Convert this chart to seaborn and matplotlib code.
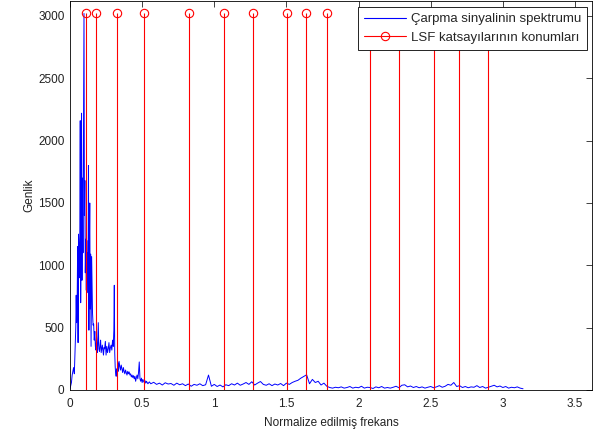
import numpy as np
import seaborn as sns
import matplotlib
matplotlib.use('Agg')
import matplotlib.pyplot as plt
from matplotlib.lines import Line2D
from matplotlib.legend_handler import HandlerLine2D

# spectrum, low band (dense)
freq_low = [0.000, 0.010, 0.015, 0.020, 0.025, 0.030, 0.035, 0.040, 0.043, 0.046,
            0.050, 0.053, 0.056, 0.059, 0.062, 0.065, 0.068, 0.071, 0.074, 0.077,
            0.080, 0.083, 0.086, 0.090, 0.094, 0.097, 0.100, 0.103, 0.106, 0.110,
            0.113, 0.116, 0.119, 0.122, 0.125, 0.128, 0.131, 0.134, 0.137, 0.140,
            0.143, 0.146, 0.150, 0.153, 0.156, 0.160, 0.164, 0.168, 0.172, 0.176,
            0.180, 0.184, 0.188, 0.192, 0.196, 0.200, 0.204, 0.208, 0.212, 0.216,
            0.220, 0.224, 0.228, 0.232, 0.236, 0.240, 0.245, 0.250, 0.255, 0.260,
            0.265, 0.270, 0.275, 0.280, 0.285, 0.290, 0.295, 0.300, 0.304, 0.307,
            0.310, 0.313, 0.316, 0.320, 0.324, 0.328, 0.332, 0.336, 0.340, 0.345,
            0.350, 0.355, 0.360, 0.365, 0.370, 0.375, 0.380, 0.385, 0.390, 0.395,
            0.400, 0.405, 0.410, 0.415, 0.420, 0.425, 0.430, 0.435, 0.440, 0.445,
            0.450, 0.455, 0.460, 0.465, 0.470, 0.475, 0.480, 0.485, 0.490, 0.495,
            0.500, 0.505, 0.510, 0.515, 0.520, 0.525, 0.530, 0.540, 0.550]
amp_low = [10, 60, 120, 150, 180, 130, 330, 500, 760, 540,
           760, 1150, 380, 1250, 1130, 900, 1240, 2160, 700, 1150,
           2220, 880, 1700, 1100, 2150, 3020, 1400, 1680, 940, 1210,
           800, 1200, 940, 1100, 780, 1800, 480, 1100, 1500, 650,
           1090, 350, 1070, 820, 620, 520, 530, 400, 470, 350,
           320, 430, 300, 360, 540, 330, 310, 350, 400, 300,
           330, 360, 320, 280, 340, 330, 390, 280, 350, 300,
           330, 380, 300, 340, 360, 320, 400, 350, 480, 840,
           300, 190, 140, 110, 170, 140, 220, 150, 230, 190,
           160, 200, 170, 140, 180, 150, 130, 160, 140, 120,
           150, 130, 145, 120, 130, 105, 120, 100, 115, 90,
           110, 70, 100, 120, 90, 140, 225, 90, 70, 95,
           60, 85, 70, 60, 75, 55, 70, 50, 65]

# spectrum, rest of the band up to pi
freq_high = [0.56, 0.58, 0.60, 0.62, 0.64, 0.66, 0.68, 0.70, 0.72, 0.74,
             0.76, 0.78, 0.80, 0.82, 0.84, 0.86, 0.88, 0.90, 0.92, 0.94,
             0.96, 0.98, 1.00, 1.02, 1.04, 1.06, 1.08, 1.10, 1.12, 1.14,
             1.16, 1.18, 1.20, 1.22, 1.24, 1.26, 1.28, 1.30, 1.32, 1.34,
             1.36, 1.38, 1.40, 1.42, 1.44, 1.46, 1.48, 1.50, 1.52, 1.54,
             1.56, 1.58, 1.60, 1.62, 1.64, 1.66, 1.68, 1.70, 1.72, 1.74,
             1.76, 1.78, 1.80, 1.82, 1.84, 1.86, 1.88, 1.90, 1.92, 1.94,
             1.96, 1.98, 2.00, 2.02, 2.04, 2.06, 2.08, 2.10, 2.12, 2.14,
             2.16, 2.18, 2.20, 2.22, 2.24, 2.26, 2.28, 2.30, 2.32, 2.34,
             2.36, 2.38, 2.40, 2.42, 2.44, 2.46, 2.48, 2.50, 2.52, 2.54,
             2.56, 2.58, 2.60, 2.62, 2.64, 2.66, 2.68, 2.70, 2.72, 2.74,
             2.76, 2.78, 2.80, 2.82, 2.84, 2.86, 2.88, 2.90, 2.92, 2.94,
             2.96, 2.98, 3.00, 3.02, 3.04, 3.06, 3.08, 3.10, 3.12, 3.14]
amp_high = [50, 62, 45, 55, 40, 58, 48, 52, 38, 55,
            42, 50, 35, 48, 30, 45, 38, 50, 35, 42,
            120, 30, 45, 28, 40, 25, 42, 35, 50, 40,
            55, 38, 48, 60, 45, 66, 40, 55, 68, 45,
            38, 50, 35, 48, 40, 52, 35, 55, 45, 60,
            70, 78, 95, 108, 122, 50, 85, 60, 70, 40,
            55, 30, 20, 15, 22, 18, 25, 15, 20, 28,
            15, 22, 18, 30, 15, 22, 20, 12, 25, 18,
            28, 15, 20, 15, 22, 30, 18, 38, 42, 25,
            32, 20, 28, 18, 25, 15, 22, 28, 18, 25,
            35, 22, 30, 45, 38, 60, 28, 35, 20, 28,
            18, 25, 22, 35, 20, 28, 15, 22, 30, 38,
            25, 32, 20, 28, 15, 22, 18, 25, 15, 10]

# LSF positions (stems)
lsf_pos = [0.109, 0.178, 0.328, 0.513, 0.825, 1.067, 1.270, 1.506, 1.635, 1.783,
           2.079, 2.282, 2.522, 2.698, 2.897]
lsf_height = 3020

freq = freq_low + freq_high
amp = amp_low + amp_high

sns.set_style('white')
plt.rcParams['font.family'] = ['Liberation Sans', 'DejaVu Sans']

fig = plt.figure(figsize=(6.02, 4.34), dpi=100)
ax = fig.add_axes([70 / 602, 44 / 434, 522 / 602, 389 / 434])

sns.lineplot(x=freq, y=amp, ax=ax, color='blue', lw=0.7, estimator=None, sort=False)

ax.vlines(lsf_pos, 0, lsf_height, color='red', lw=0.8)
ax.plot(lsf_pos, [lsf_height] * len(lsf_pos), 'o', mfc='none', mec='red', ms=6, mew=0.8)

ax.set_xlim(0, 3.618)
ax.set_ylim(0, 3120)
ax.set_xticks([0, 0.5, 1, 1.5, 2, 2.5, 3, 3.5])
ax.set_xticklabels(['0', '0.5', '1', '1.5', '2', '2.5', '3', '3.5'])
ax.set_yticks([0, 500, 1000, 1500, 2000, 2500, 3000])
ax.tick_params(direction='in', length=4, width=0.6, top=True, right=True,
               labelsize=8.5, colors='#222222', pad=4)
ax.tick_params(axis='x', pad=6)
for s in ax.spines.values():
    s.set_color('black')
    s.set_linewidth(0.6)
    s.set_visible(True)

ax.set_xlabel('Normalize edilmiş frekans', fontsize=8.5, labelpad=5, color='#222222')
ax.set_ylabel('Genlik', fontsize=8.5, labelpad=2, color='#222222')


# MATLAB style stem legend: marker at the right end of the line
class StemHandler(HandlerLine2D):
    def get_xdata(self, legend, xdescent, ydescent, width, height, fontsize):
        xdata, _ = super().get_xdata(legend, xdescent, ydescent, width, height, fontsize)
        return xdata, np.array([xdata[-1] - 0.12 * width])


h_spec = Line2D([], [], color='blue', lw=0.8)
h_lsf = Line2D([], [], color='red', lw=0.8, marker='o', mfc='none', mec='red', ms=6, mew=0.8)
leg = ax.legend([h_spec, h_lsf], ['Çarpma sinyalinin spektrumu', 'LSF katsayılarının konumları'],
                loc='upper right', bbox_to_anchor=(1 - 5 / 522, 1 - 6 / 389),
                borderaxespad=0, fontsize=9.5,
                frameon=True, fancybox=False, framealpha=1, edgecolor='black',
                handlelength=3.2, handletextpad=0.35, borderpad=0.45, labelspacing=0.5,
                handler_map={h_lsf: StemHandler(numpoints=1)})
leg.get_frame().set_linewidth(0.6)
leg.set_zorder(5)

plt.savefig('out.png', dpi=100)
